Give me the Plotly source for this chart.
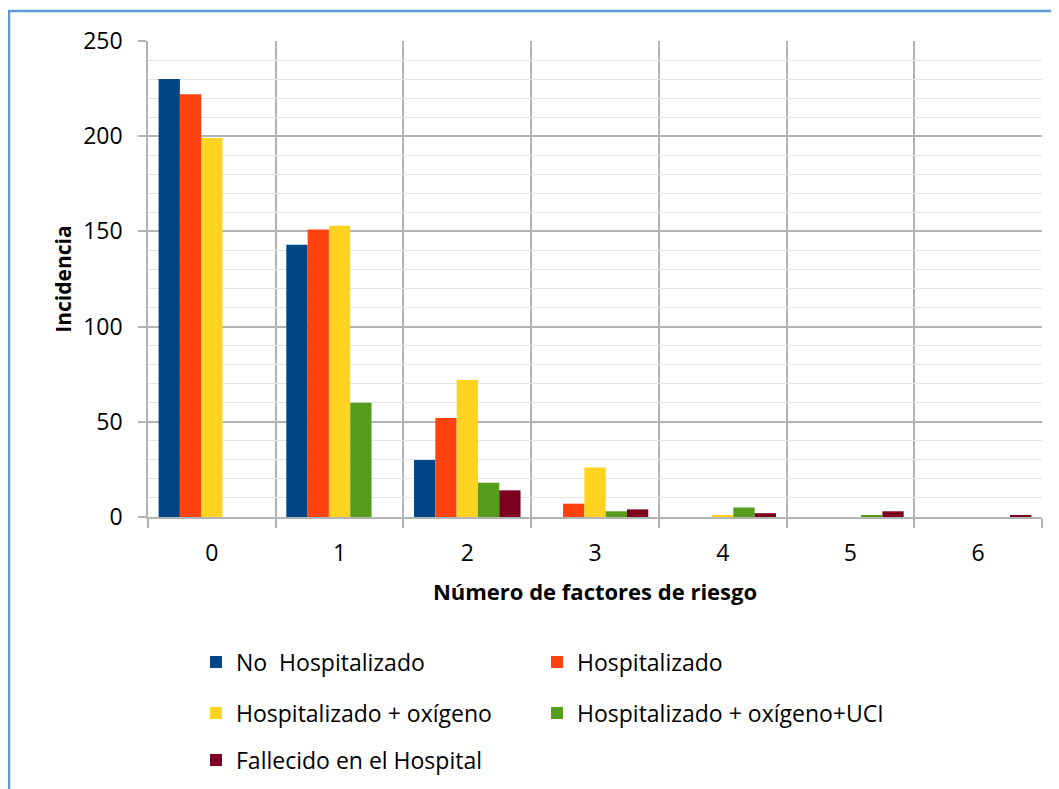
import plotly.graph_objects as go

categories = [0, 1, 2, 3, 4, 5, 6]
tick_labels = ["0", "1", "2", "3", "4", "5", "6"]

no_hosp = [230, 143, 30, 0, 0, 0, 0]
hosp = [222, 151, 52, 7, 0, 0, 0]
hosp_oxi = [199, 153, 72, 26, 1, 0, 0]
hosp_oxi_uci = [0, 60, 18, 3, 5, 1, 0]
fallecido = [0, 0, 14, 4, 2, 3, 1]

series_names = ["No\u00a0 Hospitalizado", "Hospitalizado", "Hospitalizado + oxígeno",
                "Hospitalizado + oxígeno+UCI", "Fallecido en el Hospital"]
series_values = [no_hosp, hosp, hosp_oxi, hosp_oxi_uci, fallecido]
colors = ["#004586", "#FF420E", "#FFD320", "#579D1C", "#7E0021"]
legend_ids = ["legend", "legend2", "legend3", "legend4", "legend5"]

FONT = "Open Sans"

fig = go.Figure()
for name, vals, col, lg in zip(series_names, series_values, colors, legend_ids):
    fig.add_trace(go.Bar(x=categories, y=vals, name=name, marker=dict(color=col, line=dict(width=0)),
                         legend=lg))

# page body has an 8px margin: figure top-left lands at screen (8, 8)
OFF = 8
W, H = 1059 - OFF, 789 - OFF
# plot area in screen pixels
SX0, SX1, SY0, SY1 = 148, 1042, 41, 517
L = SX0 - OFF
R = W - (SX1 - OFF)
T = SY0 - OFF
B = H - (SY1 - OFF)
pw = SX1 - SX0
ph = SY1 - SY0

def px2x(px):
    return (px - SX0) / pw

def py2y(py):
    return (SY1 - py) / ph

leg_common = dict(orientation="v",
                  font=dict(family=FONT, size=23, color="black"),
                  xanchor="left", yanchor="middle", bgcolor="rgba(0,0,0,0)",
                  itemclick=False, itemdoubleclick=False)

C1, C2 = px2x(196), px2x(537)
R1, R2, R3 = py2y(662), py2y(713), py2y(760)

fig.update_layout(
    width=W, height=H, autosize=False,
    margin=dict(l=L, r=R, t=T, b=B, autoexpand=False),
    paper_bgcolor="white", plot_bgcolor="white",
    barmode="group", bargap=0.166, bargroupgap=0,
    font=dict(family=FONT, color="black"),
    showlegend=True,
    legend=dict(x=C1, y=R1, **leg_common),
    legend2=dict(x=C2, y=R1, **leg_common),
    legend3=dict(x=C1, y=R2, **leg_common),
    legend4=dict(x=C2, y=R2, **leg_common),
    legend5=dict(x=C1, y=R3, **leg_common),
    xaxis=dict(
        range=[-0.5, 6.5], tickmode="array", tickvals=categories, ticktext=tick_labels,
        ticks="", showgrid=False, showline=True, linecolor="#b3b3b3", linewidth=1.5,
        tickfont=dict(family=FONT, size=23, color="black"),
        ticklabelstandoff=15,
        minor=dict(tickmode="linear", tick0=-0.5, dtick=1, ticks="outside", ticklen=9,
                   tickcolor="#b3b3b3", tickwidth=1.5, showgrid=True, gridcolor="#b3b3b3", gridwidth=1.5),
        title=dict(text="<b>Número de factores de riesgo</b>", font=dict(family=FONT, size=22, color="black"),
                   standoff=17),
        zeroline=False, fixedrange=True,
    ),
    yaxis=dict(
        range=[0, 250], tickmode="linear", tick0=0, dtick=50,
        ticks="outside", ticklen=8, tickcolor="#b3b3b3", tickwidth=1.5,
        showgrid=True, gridcolor="#b3b3b3", gridwidth=1.5,
        showline=True, linecolor="#b3b3b3", linewidth=1.5,
        tickfont=dict(family=FONT, size=23, color="black"),
        ticklabelstandoff=11,
        minor=dict(dtick=10, tick0=0, showgrid=True, gridcolor="#e3e3e3", gridwidth=1.2, ticks=""),
        title=dict(text="<b>Incidencia</b>", font=dict(family=FONT, size=21, color="black"), standoff=6),
        zeroline=False, fixedrange=True,
    ),
    shapes=[dict(type="rect", xref="paper", yref="paper",
                 x0=px2x(9), x1=px2x(1075), y0=py2y(805), y1=py2y(11),
                 line=dict(color="#5B9BD5", width=2.5), fillcolor="rgba(0,0,0,0)", layer="below")],
)

fig.write_html("out.html")
